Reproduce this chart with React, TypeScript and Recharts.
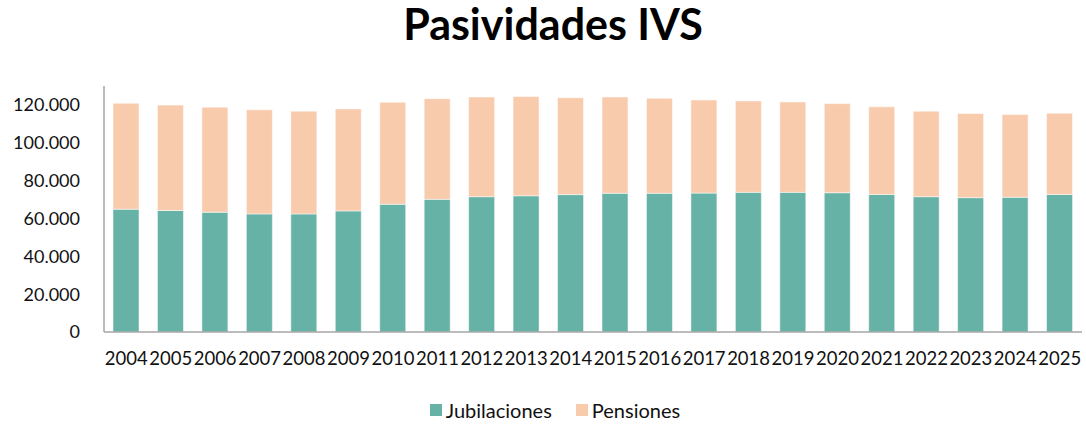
import { BarChart, Bar, XAxis, YAxis, Legend } from 'recharts';

const years = [
  '2004', '2005', '2006', '2007', '2008', '2009', '2010', '2011', '2012', '2013', '2014',
  '2015', '2016', '2017', '2018', '2019', '2020', '2021', '2022', '2023', '2024', '2025',
];

const jubilaciones = [
  64900, 64200, 63300, 62400, 62400, 64000, 67500, 70100, 71500, 72000, 72600,
  73300, 73300, 73400, 73800, 73800, 73600, 72700, 71500, 71000, 71200, 72700,
];

const pensiones = [
  56000, 55700, 55500, 55000, 54300, 53900, 53900, 53200, 52700, 52400, 51200,
  50900, 50200, 49200, 48300, 47800, 47100, 46300, 45200, 44500, 43700, 42900,
];

const yTicks = [0, 20000, 40000, 60000, 80000, 100000, 120000];

const TEAL = '#66b2a6';
const PEACH = '#f8cbad';
const FONT = 'Lato, "Open Sans", sans-serif';

const data = years.map((year, i) => ({
  year,
  jubilaciones: jubilaciones[i],
  pensiones: pensiones[i],
}));

// 120000 -> "120.000"
const fmt = (v: number) => String(v).replace(/\B(?=(\d{3})+(?!\d))/g, '.');

function LegendBox() {
  const items = [
    { label: 'Jubilaciones', color: TEAL },
    { label: 'Pensiones', color: PEACH },
  ];
  return (
    <div style={{ display: 'flex', justifyContent: 'center', height: 26, alignItems: 'center', fontFamily: FONT, fontSize: 20, color: '#111' }}>
      {items.map((it) => (
        <div key={it.label} style={{ display: 'flex', alignItems: 'center', margin: '0 12px' }}>
          <span style={{ width: 12, height: 12, background: it.color, marginRight: 4, display: 'inline-block' }} />
          <span>{it.label}</span>
        </div>
      ))}
    </div>
  );
}

export default function App() {
  return (
    <div style={{ position: 'absolute', left: 0, top: 0, width: 1086, height: 424, background: '#fff' }}>
      <div
        style={{
          position: 'absolute', left: 0, top: -2, width: 1106, textAlign: 'center',
          fontFamily: FONT, fontWeight: 700, fontSize: 43, color: '#000',
        }}
      >
        Pasividades IVS
      </div>
      <BarChart
        width={1086}
        height={424}
        data={data}
        margin={{ top: 86, right: 4, left: 0, bottom: 36 }}
        barSize={26}
      >
        <XAxis
          dataKey="year"
          interval={0}
          height={30}
          tickSize={0}
          tickMargin={20}
          stroke="#a6a6a6"
          strokeWidth={1.5}
          tick={{ fill: '#111', fontSize: 18.5, fontFamily: FONT }}
        />
        <YAxis
          width={104}
          domain={[0, 130000]}
          ticks={yTicks}
          tickFormatter={fmt}
          tickSize={0}
          tickMargin={24}
          stroke="#a6a6a6"
          strokeWidth={1.5}
          tick={{ fill: '#111', fontSize: 18, fontFamily: FONT }}
        />
        <Legend content={<LegendBox />} wrapperStyle={{ top: 397, left: 12, width: 1086 }} />
        <Bar dataKey="jubilaciones" stackId="a" fill={TEAL} stroke="#fff" strokeOpacity={0.5} isAnimationActive={false} />
        <Bar dataKey="pensiones" stackId="a" fill={PEACH} stroke="#fff" strokeOpacity={0.5} isAnimationActive={false} />
      </BarChart>
    </div>
  );
}
